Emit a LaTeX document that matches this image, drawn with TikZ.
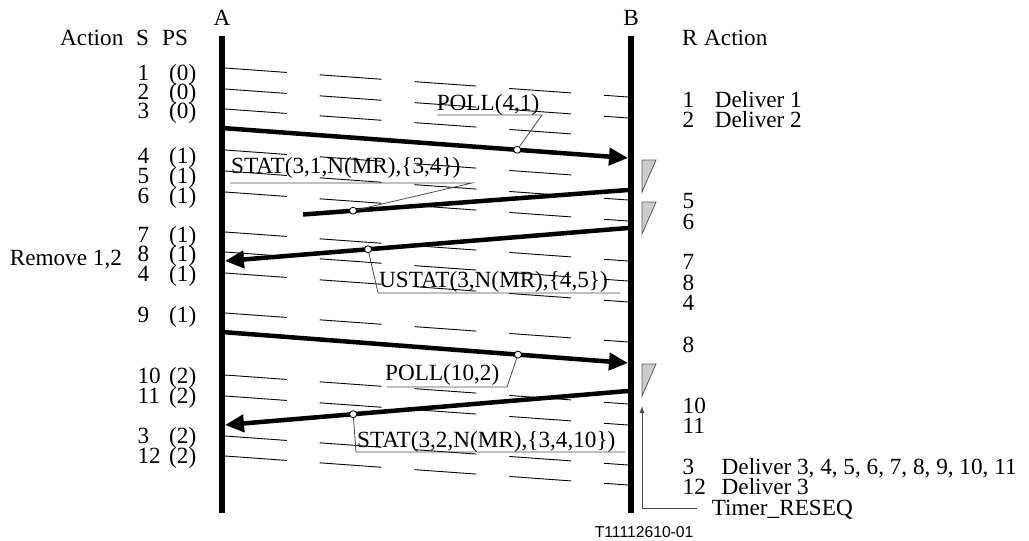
\documentclass[tikz,border=0pt]{standalone}
\usepackage{fontspec}
\setmainfont{Liberation Serif}
\newfontfamily\arialfont{Liberation Sans}
\usetikzlibrary{arrows.meta,calc}
\begin{document}
\begin{tikzpicture}[x=1pt,y=-1pt,
  txt/.style={inner sep=0pt, anchor=base west, font=\fontsize{23.2}{23.2}\selectfont},
  life/.style={line width=6pt},
  msg/.style={line width=4.5pt},
  msgarrow/.style={msg, -{Triangle[length=19pt,width=17pt]}},
  sline/.style={line width=0.9pt, dash pattern=on 62pt off 33pt},
  lead/.style={line width=0.8pt, draw=black!70},
  dot/.style={circle, draw, fill=white, line width=0.8pt, inner sep=0pt, minimum size=7pt},
  tri/.style={fill=black!20, draw=black!65, line width=0.8pt},
]
\useasboundingbox (0,0) rectangle (1029,541);

% lifelines
\coordinate (Atop) at (222,36); \coordinate (Abot) at (222,513);
\coordinate (Btop) at (631,36); \coordinate (Bbot) at (631,513);
\draw[life] (Atop) -- (Abot);
\draw[life] (Btop) -- (Bbot);
\node[txt, anchor=base] (lA) at (222,25) {A};
\node[txt, anchor=base] (lB) at (631,25) {B};

% headers
\node[txt] (hAct) at (60,45) {Action};
\node[txt] (hS) at (136,45) {S};
\node[txt] (hPS) at (162,45) {PS};
\node[txt] (hR) at (682,45) {R};
\node[txt] (hAct2) at (704,45) {Action};
\node[txt] (rem) at (9.6,265) {Remove 1,2};

% S-frame dashed lines
\foreach \ya/\xe [count=\i] in {68/628, 89/628, 109/572, 150/572, 171/628, 192/628, 232/628, 252/628, 273/628, 313/628, 375/628, 396/628, 436/628, 456/628} {
  \coordinate (ds\i) at (225,\ya);
  \coordinate (de\i) at (\xe,{\ya+29*(\xe-225)/403});
  \draw[sline] (ds\i) -- (de\i);
}

% left column
\foreach \s/\p/\b [count=\i] in {1/(0)/80, 2/(0)/99, 3/(0)/118, 4/(1)/163, 5/(1)/183, 6/(1)/203, 7/(1)/242, 8/(1)/261, 4/(1)/281, 9/(1)/322, 10/(2)/383, 11/(2)/403, 3/(2)/443, 12/(2)/463} {
  \node[txt] (ls\i) at (137.4,\b) {\s};
  \node[txt] (lp\i) at (169,\b) {\p};
}

% right column
\foreach \r/\b [count=\i] in {1/107, 2/127, 5/208, 6/229, 7/269, 8/290, 4/310, 8/352, 10/413, 11/433, 3/474, 12/494} {
  \node[txt] (rr\i) at (682.5,\b) {\r};
}
\node[txt] (d1) at (714.6,107) {Deliver 1};
\node[txt] (d2) at (714.6,127) {Deliver 2};
\node[txt] (d3) at (721.5,474) {Deliver 3, 4, 5, 6, 7, 8, 9, 10, 11};
\node[txt] (d4) at (721.5,494) {Deliver 3};

% message 1 : POLL(4,1)
\coordinate (m1s) at (222,128); \coordinate (m1e) at (628,158);
\draw[msgarrow] (m1s) -- (m1e);
\node[dot] (c1) at ($(m1s)!0.727!(m1e)$) {};
\coordinate (u1r) at (542,115); \coordinate (u1l) at (437,115);
\draw[lead] (c1) -- (u1r) -- (u1l);
\node[txt] (t1) at (436.6,110) {POLL(4,1)};

% message 2 : STAT(3,1,...) lost
\coordinate (m2s) at (628,190); \coordinate (m2e) at (303,214.5);
\draw[msg] (m2s) -- (m2e);
\node[dot] (c2) at ($(m2s)!0.846!(m2e)$) {};
\coordinate (u2r) at (472,183); \coordinate (u2l) at (230,183);
\draw[lead] (c2) -- (u2r) -- (u2l);
\node[txt] (t2) at (231,173) {STAT(3,1,N(MR),\{3,4\})};

% message 3 : USTAT
\coordinate (m3s) at (628,228); \coordinate (m3e) at (225,261);
\draw[msgarrow] (m3s) -- (m3e);
\node[dot] (c3) at ($(m3s)!0.645!(m3e)$) {};
\coordinate (u3l) at (378,293); \coordinate (u3r) at (620,293);
\draw[lead] (c3) -- (u3l) -- (u3r);
\node[txt] (t3) at (379,287) {USTAT(3,N(MR),\{4,5\})};

% message 4 : POLL(10,2)
\coordinate (m4s) at (222,332); \coordinate (m4e) at (628,363);
\draw[msgarrow] (m4s) -- (m4e);
\node[dot] (c4) at ($(m4s)!0.729!(m4e)$) {};
\coordinate (u4r) at (507,387); \coordinate (u4l) at (387,387);
\draw[lead] (c4) -- (u4r) -- (u4l);
\node[txt] (t4) at (385,380) {POLL(10,2)};

% message 5 : STAT(3,2,...)
\coordinate (m5s) at (628,391); \coordinate (m5e) at (225,425);
\draw[msgarrow] (m5s) -- (m5e);
\node[dot] (c5) at ($(m5s)!0.682!(m5e)$) {};
\coordinate (u5l) at (356,452); \coordinate (u5r) at (625,452);
\draw[lead] (c5) -- (u5l) -- (u5r);
\node[txt] (t5) at (357,447) {STAT(3,2,N(MR),\{3,4,10\})};

% timer triangles
\draw[tri] (642,160) -- (656,160) -- (642,192) -- cycle;
\draw[tri] (642,202) -- (656,202) -- (642,234) -- cycle;
\draw[tri] (642,364) -- (656,364) -- (642,396) -- cycle;

% Timer_RESEQ
\coordinate (tm0) at (697,508); \coordinate (tm1) at (642,508); \coordinate (tm2) at (642,406);
\draw[lead, -{Latex[length=7pt,width=5pt]}] (tm0) -- (tm1) -- (tm2);
\node[txt] (tmr) at (711.6,515) {Timer\_RESEQ};

% figure id
\node[inner sep=0pt, anchor=base west, font=\arialfont\fontsize{15.7}{15.7}\selectfont] (fid) at (594.6,537.6) {T11112610-01};
\end{tikzpicture}
\end{document}
